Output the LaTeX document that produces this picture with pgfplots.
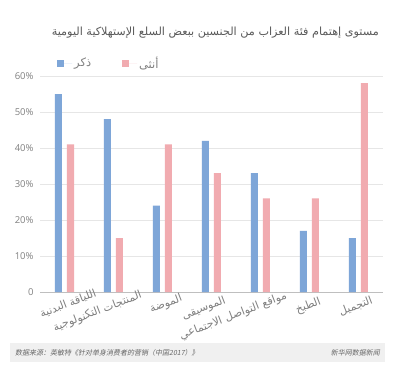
\documentclass[border=0pt]{standalone}
\usepackage{fontspec}
\setmainfont{Open Sans}
\newfontfamily\arabicfont[Script=Arabic]{DejaVu Sans}
\newfontfamily\cjk[FakeSlant=0.2]{Noto Sans CJK SC}
\TeXXeTstate=1
\usepackage{pgfplots}
\pgfplotsset{compat=1.18}
\definecolor{cblue}{HTML}{7EA6D8}
\definecolor{cpink}{HTML}{F1ABB0}
\definecolor{ctitle}{HTML}{595959}
\definecolor{clabel}{HTML}{808080}
\definecolor{cgrid}{HTML}{E6E6E6}
\begin{document}
\begin{tikzpicture}
\path[use as bounding box, fill=white] (0,0) rectangle (394pt,368pt);
\begin{axis}[
  at={(40pt,76pt)}, anchor=south west, scale only axis,
  width=343pt, height=216pt,
  xmin=-0.5, xmax=6.5, ymin=0, ymax=60,
  ybar=5pt, bar width=7pt,
  axis x line=bottom, axis y line=left,
  axis line style={-},
  x axis line style={draw=black!25},
  y axis line style={draw=none},
  ymajorgrids, grid style={draw=cgrid, line width=0.6pt},
  major tick length=0pt,
  ytick={0,10,20,30,40,50,60},
  yticklabels={0,10\%,20\%,30\%,40\%,50\%,60\%},
  yticklabel style={font=\fontsize{9.5}{10}\selectfont, text=clabel, anchor=east, xshift=-3pt},
  xtick={0,1,2,3,4,5,6},
  xticklabels={
    {\arabicfont\beginR اللياقة البدنية\endR},
    {\arabicfont\beginR المنتجات التكنولوجية\endR\hspace*{4pt}},
    {\arabicfont\beginR الموضة\endR\hspace*{13pt}},
    {\arabicfont\beginR الموسيقى\endR\hspace*{19pt}},
    {\arabicfont\beginR مواقع التواصل الاجتماعي\endR\hspace*{6pt}},
    {\arabicfont\beginR الطبخ\endR\hspace*{22pt}},
    {\arabicfont\beginR التجميل\endR\hspace*{19pt}}},
  xticklabel style={font=\fontsize{11}{12}\selectfont, text=clabel, rotate=21, anchor=north east, xshift=30pt, yshift=-6pt, inner sep=1pt},
  legend style={draw=none, fill=none, at={(0.0496,1.06)}, anchor=west, inner sep=0pt,
    legend columns=2, font=\fontsize{11.5}{13}\selectfont, text=clabel,
    /tikz/every even column/.append style={column sep=29pt}},
  legend cell align=left,
  legend image code/.code={\fill[#1] (0pt,-3.5pt) rectangle (7pt,3.5pt); \path (0pt,0pt) -- (15pt,0pt);},
]
\addplot[fill=cblue, draw=none] coordinates {(0,55) (1,48) (2,24) (3,42) (4,33) (5,17) (6,15)};
\addplot[fill=cpink, draw=none] coordinates {(0,41) (1,15) (2,41) (3,33) (4,26) (5,26) (6,58)};
\legend{{\arabicfont\beginR ذكر\endR},{\arabicfont\beginR أنثى\endR}}
\end{axis}
\node[anchor=east, text=ctitle, font=\arabicfont\fontsize{11.2}{13}\selectfont, inner sep=0pt] at (379pt,335pt) {\beginR مستوى إهتمام فئة العزاب من الجنسين ببعض السلع الإستهلاكية اليومية\endR};
\fill[black!6] (10pt,6pt) rectangle (385pt,25pt);
\node[anchor=west, text=black!60, font=\cjk\fontsize{7}{8}\selectfont, inner sep=0pt] at (15pt,15.5pt) {数据来源：英敏特《针对单身消费者的营销（中国2017）》};
\node[anchor=east, text=black!60, font=\cjk\fontsize{7}{8}\selectfont, inner sep=0pt] at (380pt,15.5pt) {新华网数据新闻};
\end{tikzpicture}
\end{document}
